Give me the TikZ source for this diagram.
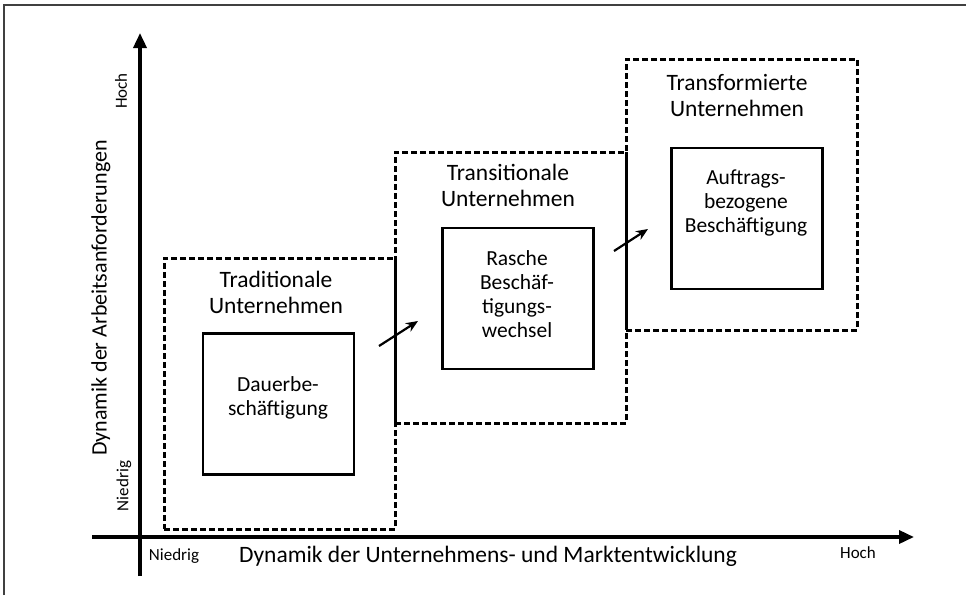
\documentclass[tikz,border=0pt]{standalone}
\usepackage{fontspec}
\setmainfont{Carlito}
\usetikzlibrary{arrows.meta}
\begin{document}
\begin{tikzpicture}[x=1pt,y=-1pt,
  groupbox/.style={draw, line width=3pt, dash pattern=on 6pt off 3pt, minimum width=231pt, minimum height=271pt, inner sep=0pt, outer sep=0pt},
  innerbox/.style={draw, line width=2.2pt, minimum width=151pt, minimum height=141pt, inner sep=0pt, outer sep=0pt},
  title/.style={font=\fontsize{23.5}{26}\selectfont, align=center, inner sep=0pt},
  boxtext/.style={font=\fontsize{21.5}{24}\selectfont, align=center, inner sep=0pt},
  axislabel/.style={font=\fontsize{23.5}{26}\selectfont, inner sep=0pt},
  small/.style={font=\fontsize{17}{19}\selectfont, inner sep=0pt},
  axis/.style={line width=3.5pt, -{Triangle[length=15pt,width=13pt]}},
  step arrow/.style={line width=2.2pt, -{Stealth[length=12pt,width=10pt]}},
  overlap/.style={line width=3pt}
]
\useasboundingbox (0,0) rectangle (966,595);
% frame
\draw[black!75, line width=1.8pt] (4,595) -- (4,5) -- (966,5);

% axes
\coordinate (xs) at (92,537);
\coordinate (xe) at (914,537);
\coordinate (ys) at (140,576);
\coordinate (ye) at (140,33);
\draw[axis] (xs) -- (xe);
\draw[axis] (ys) -- (ye);

% axis labels
\node[axislabel] (xlab) at (488,556) {Dynamik der Unternehmens- und Marktentwicklung};
\node[axislabel, font=\fontsize{22}{26}\selectfont, rotate=90] (ylab) at (101,298) {Dynamik der Arbeitsanforderungen};
\node[small] (xlo) at (174,556) {Niedrig};
\node[small] (xhi) at (858,553) {Hoch};
\node[small, rotate=90] (ylo) at (124,486) {Niedrig};
\node[small, rotate=90] (yhi) at (121,91) {Hoch};

% group boxes
\node[groupbox] (g1) at (279.5,393.5) {};
\node[groupbox] (g2) at (510.5,287.5) {};
\node[groupbox] (g3) at (741.5,194.5) {};
\draw[overlap] (g1.north east) -- (g2.south west);
\draw[overlap] (g2.north east) -- (g3.south west);

% titles
\node[title] (t1) at (276,292) {Traditionale\\Unternehmen};
\node[title] (t2) at (508,185) {Transitionale\\Unternehmen};
\node[title] (t3) at (737,95) {Transformierte\\Unternehmen};

% inner boxes
\node[innerbox] (i1) at (278.5,404) {};
\node[innerbox] (i2) at (518,298.5) {};
\node[innerbox] (i3) at (747,218.5) {};
\node[boxtext] (x1) at (278,398) {Dauerbe-\\schäftigung};
\node[boxtext] (x2) at (517,294) {Rasche\\Beschäf-\\tigungs-\\wechsel};
\node[boxtext] (x3) at (746,203) {Auftrags-\\bezogene\\Beschäftigung};

% transition arrows
\coordinate (a1s) at (379,346);
\coordinate (a1e) at (418,321);
\coordinate (a2s) at (614,251);
\coordinate (a2e) at (648,229);
\draw[step arrow] (a1s) -- (a1e);
\draw[step arrow] (a2s) -- (a2e);
\end{tikzpicture}
\end{document}
